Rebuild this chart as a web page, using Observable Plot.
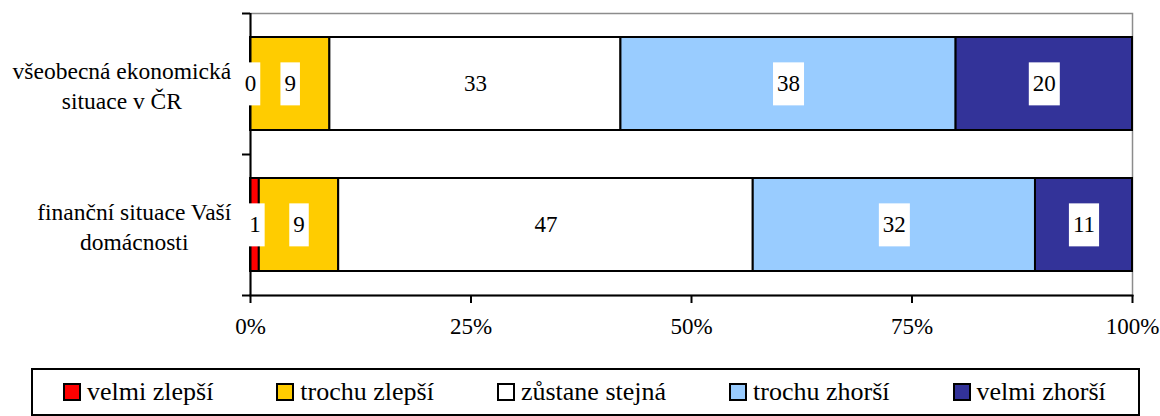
<!DOCTYPE html>
<html>
<head>
<meta charset="utf-8">
<script src="https://cdn.jsdelivr.net/npm/d3@7"></script>
<script src="https://cdn.jsdelivr.net/npm/@observablehq/plot@0.6"></script>
<style>
  body { margin: 0; background: #fff; font-family: "Liberation Serif", Tinos, "Times New Roman", Times, "DejaVu Serif", serif; }
  #chart svg { display: block; }
  .legend {
    box-sizing: border-box; margin-left: 31px; margin-top: 16px; width: 1109px; height: 48px;
    border: 2px solid #000; display: flex; align-items: center; padding-left: 30px; gap: 63px;
    font-size: 26px; color: #000;
  }
  .item { display: inline-flex; align-items: center; white-space: nowrap; }
  .sw { box-sizing: border-box; width: 18px; height: 18px; border: 2px solid #000; margin-right: 6px; }
</style>
</head>
<body>
<div id="chart"></div>
<div class="legend" id="legend"></div>
<script>
const categories = ["všeobecná ekonomická situace v ČR", "finanční situace Vaší domácnosti"];
const categoryLines = ["všeobecná ekonomická\nsituace v ČR", "finanční situace Vaší\ndomácnosti"];
const responses = ["velmi zlepší", "trochu zlepší", "zůstane stejná", "trochu zhorší", "velmi zhorší"];
const colors = ["#FF0000", "#FFCC00", "#FFFFFF", "#99CCFF", "#333399"];
const economyValues = [0, 9, 33, 38, 20];
const householdValues = [1, 9, 47, 32, 11];
const xTicks = [0, 25, 50, 75, 100];

const seriesByCategory = [economyValues, householdValues];
const data = categories.flatMap((c, i) =>
  responses.map((r, j) => ({cat: c, resp: r, value: seriesByCategory[i][j]})));

const FONT = '"Liberation Serif", Tinos, "Times New Roman", Times, "DejaVu Serif", serif';
const W = 1160, H = 352, mT = 13, mB = 57, mL = 250, mR = 28;
const halfStep = (H - mT - mB) / categories.length / 2;

const chart = Plot.plot({
  width: W, height: H, marginLeft: mL, marginRight: mR, marginTop: mT, marginBottom: mB,
  style: {fontFamily: FONT, fontSize: "23px", color: "#000", background: "#fff"},
  x: {domain: [0, 100], axis: null, label: null},
  y: {domain: categories, paddingInner: 0.34, paddingOuter: 0.17, axis: null, label: null},
  color: {domain: responses, range: colors},
  marks: [
    Plot.frame({stroke: "#8c8c8c", strokeWidth: 1.5}),
    Plot.barX(data, {x: "value", y: "cat", fill: "resp", stroke: "#000", strokeWidth: 2}),
    Plot.ruleX([0], {stroke: "#000", strokeWidth: 2}),
    Plot.frame({anchor: "bottom", stroke: "#000", strokeWidth: 2}),
    Plot.axisX(xTicks, {tickSize: 8, tickPadding: 14, strokeWidth: 2, tickFormat: d => d + "%", fontSize: 23, label: null}),
    Plot.axisY(categories, {tickSize: 8, strokeWidth: 2, dy: -halfStep, tickFormat: () => "", label: null}),
    Plot.axisY([categories[categories.length - 1]], {tickSize: 8, strokeWidth: 2, dy: halfStep, tickFormat: () => "", label: null}),
    Plot.axisY(categories, {tickSize: 0, tickPadding: 19, fontSize: 23.5, lineHeight: 1.28, label: null,
      tickFormat: d => categoryLines[categories.indexOf(d)]}),
    Plot.text(data, Plot.stackX({x: "value", y: "cat", z: "resp", text: d => String(d.value), fontSize: 23, fill: "#000"}))
  ]
});
document.getElementById("chart").appendChild(chart);

// white boxes behind bar value labels
const NS = "http://www.w3.org/2000/svg";
chart.querySelectorAll('g[aria-label="text"] text').forEach(t => {
  const bb = t.getBBox();
  const r = document.createElementNS(NS, "rect");
  const cy = bb.y + bb.height / 2;
  r.setAttribute("x", bb.x - 4);
  r.setAttribute("y", cy - 21.5);
  r.setAttribute("width", bb.width + 8);
  r.setAttribute("height", 43);
  r.setAttribute("fill", "#fff");
  r.setAttribute("stroke", "none");
  if (t.getAttribute("transform")) r.setAttribute("transform", t.getAttribute("transform"));
  t.parentNode.insertBefore(r, t);
});

// y labels: lines centered on each other, block right-aligned
chart.querySelectorAll('g[aria-label="y-axis tick label"] text').forEach(t => {
  const bb = t.getBBox();
  if (!bb.width) return;
  t.setAttribute("text-anchor", "middle");
  const tr = t.getAttribute("transform") || "";
  t.setAttribute("transform", tr + ` translate(${-bb.width / 2},0)`);
});

const legend = document.getElementById("legend");
responses.forEach((r, i) => {
  const it = document.createElement("span");
  it.className = "item";
  const sw = document.createElement("span");
  sw.className = "sw";
  sw.style.background = colors[i];
  it.appendChild(sw);
  it.appendChild(document.createTextNode(r));
  legend.appendChild(it);
});
</script>
</body>
</html>
